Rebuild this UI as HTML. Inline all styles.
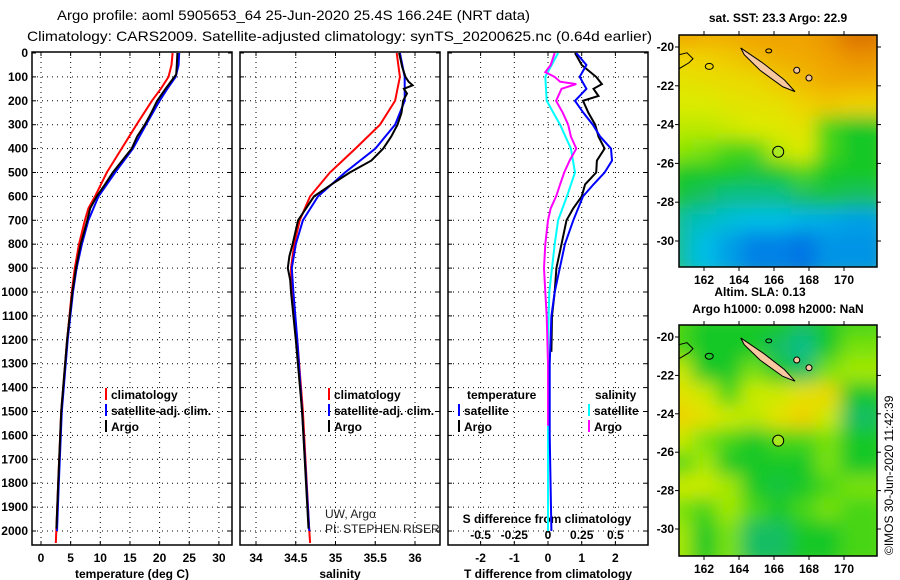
<!DOCTYPE html>
<html><head><meta charset="utf-8"><style>
body{margin:0;background:#fff}
svg{display:block;font-family:"Liberation Sans",sans-serif}
.tk{font-size:12px;font-weight:bold}
</style></head><body>
<svg id="s" width="900" height="580" viewBox="0 0 900 580">
<text x="57" y="20" font-size="14" textLength="473" lengthAdjust="spacingAndGlyphs">Argo profile: aoml 5905653_64 25-Jun-2020 25.4S 166.24E (NRT data)</text>
<text x="27" y="41" font-size="14" textLength="625" lengthAdjust="spacingAndGlyphs">Climatology: CARS2009. Satellite-adjusted climatology: synTS_20200625.nc (0.64d earlier)</text>
<g id="g"></g>
<text transform="translate(893,555) rotate(-90)" font-size="12">©IMOS 30-Jun-2020 11:42:39</text>
</svg>
<script>
// ---- data ----
const depthTicks=[0,100,200,300,400,500,600,700,800,900,1000,1100,1200,1300,1400,1500,1600,1700,1800,1900,2000];
const tTicks=[0,5,10,15,20,25,30];
const sTicks=[34,34.5,35,35.5,36];
const dTTicks=[-2,-1,0,1,2];
const dSTicks=[-0.5,-0.25,0,0.25,0.5];
const tClimDepth=[0,50,100,150,200,300,400,500,600,650,700,800,900,1000,1200,1500,1800,2050];
const tClim=[22.2,22.0,21.5,20.2,18.7,16.1,13.6,11.1,9.1,8.0,7.4,6.4,5.7,5.2,4.4,3.4,2.9,2.5];
const tSatDepth=[0,50,100,150,200,300,400,500,600,700,800,900,1000,1200,1500,1800,2000];
const tSat=[23.3,23.2,22.7,21.3,20.0,17.7,15.5,12.5,9.7,8.0,6.9,6.0,5.4,4.5,3.5,3.0,2.7];
const tArgoDepth=[0,50,90,100,150,200,250,300,350,400,450,500,550,600,650,700,800,900,1000,1200,1500,1800,1990];
const tArgo=[23.0,22.9,22.8,22.5,21.0,19.6,18.6,17.5,16.2,15.3,13.7,12.1,10.8,9.4,8.3,7.8,6.7,5.9,5.3,4.4,3.4,2.9,2.6];
const sClimDepth=[0,100,200,300,400,500,600,700,800,900,1000,1200,1500,2000,2050];
const sClim=[35.77,35.81,35.75,35.56,35.25,34.93,34.68,34.55,34.48,34.44,34.45,34.52,34.59,34.67,34.68];
const sSatDepth=[0,100,200,300,400,500,600,700,800,900,1000,1200,1500,2000];
const sSat=[35.81,35.87,35.87,35.75,35.50,35.12,34.78,34.59,34.50,34.45,34.47,34.52,34.58,34.67];
const sArgoDepth=[0,60,100,120,135,150,170,200,250,300,350,400,450,500,550,600,700,800,850,900,950,1000,1200,1500,1990];
const sArgo=[35.80,35.84,35.88,35.92,35.97,35.86,35.90,35.85,35.83,35.78,35.70,35.60,35.45,35.18,34.95,34.73,34.53,34.46,34.42,34.40,34.43,34.44,34.50,34.58,34.66];
const dTSatDepth=[0,50,100,150,200,250,300,350,400,450,500,550,600,700,800,900,1000,1100,1300,1600,2000];
const dTSat=[0.84,1.14,0.94,1.14,0.80,1.05,1.33,1.55,1.87,1.90,1.68,1.35,1.04,0.75,0.50,0.35,0.20,0.10,0.05,0.05,0.10];
const dTArgoDepth=[0,50,100,130,150,180,200,250,300,350,400,450,500,550,600,650,700,800,900,1000,1100,1250];
const dTArgo=[0.80,1.00,1.43,1.60,1.35,1.50,1.04,1.20,1.40,1.50,1.68,1.45,1.43,1.10,1.00,0.75,0.55,0.40,0.25,0.20,0.12,0.10];
const dSSatDepth=[0,100,200,300,400,500,600,700,800,900,1000,1200,1500,2000];
const dSSat=[0.075,-0.02,-0.01,0.09,0.17,0.20,0.14,0.075,0.05,0.03,0.01,0.0,0.0,0.0];
const dSArgoDepth=[0,50,80,100,120,130,150,200,250,300,350,400,450,500,550,600,650,700,800,900,1000,1100,1300,1560];
const dSArgo=[0.05,0.02,-0.02,0.05,0.09,0.21,0.10,0.06,0.11,0.15,0.17,0.21,0.16,0.12,0.09,0.06,0.02,0.0,-0.02,-0.03,-0.02,-0.01,0.0,0.0];
const lonTicks=[162,164,166,168,170];
const latTicks=[-20,-22,-24,-26,-28,-30];
const sstGrid=[
[0.9,0.88,0.88,0.9,0.9,0.9,0.92,0.97],
[0.8,0.8,0.82,0.85,0.87,0.88,0.9,0.92],
[0.75,0.76,0.77,0.78,0.82,0.85,0.88,0.88],
[0.72,0.72,0.74,0.75,0.76,0.8,0.82,0.8],
[0.68,0.68,0.7,0.72,0.73,0.75,0.55,0.5],
[0.62,0.6,0.55,0.55,0.68,0.72,0.55,0.5],
[0.5,0.5,0.5,0.48,0.5,0.55,0.5,0.5],
[0.48,0.45,0.42,0.42,0.42,0.45,0.47,0.45],
[0.4,0.38,0.36,0.35,0.35,0.33,0.32,0.3],
[0.4,0.35,0.3,0.25,0.25,0.2,0.28,0.28]];
const slaGrid=[
[0.55,0.5,0.5,0.5,0.5,0.45,0.5,0.55],
[0.55,0.5,0.5,0.5,0.45,0.42,0.5,0.6],
[0.7,0.5,0.5,0.6,0.5,0.45,0.6,0.65],
[0.75,0.7,0.55,0.7,0.7,0.75,0.78,0.5],
[0.8,0.75,0.7,0.68,0.75,0.8,0.7,0.45],
[0.7,0.6,0.55,0.5,0.55,0.55,0.6,0.5],
[0.55,0.65,0.5,0.5,0.5,0.5,0.6,0.5],
[0.7,0.7,0.65,0.5,0.48,0.5,0.55,0.6],
[0.6,0.55,0.65,0.55,0.5,0.55,0.6,0.55],
[0.65,0.5,0.6,0.45,0.45,0.5,0.5,0.55]];
const floatLon=166.24, floatLat=-25.4;

// ---- drawing ----
const NS='http://www.w3.org/2000/svg';
const G=document.getElementById('g');
function el(t,a,p){const e=document.createElementNS(NS,t);for(const k in a)e.setAttribute(k,a[k]);(p||G).appendChild(e);return e;}
const yD=d=>53+d*0.239;
const TOP=52,BOT=545;
const panels=[
 {x0:32,x1:232,f:v=>41+v*5.93},
 {x0:240,x1:440,f:v=>256+(v-34)*79.5},
 {x0:448,x1:648,f:v=>548+v*33.7}];
const fS=v=>548+v*134.8;
function grid(p,ticks,name){
  const g=el('g',{});
  
  
  depthTicks.slice(1).forEach(d=>el('line',{x1:p.x0,x2:p.x1,y1:yD(d),y2:yD(d),stroke:'#000','stroke-width':1,'stroke-dasharray':'1,4'},g));
  ticks.forEach(v=>{const x=p.f(v);el('line',{x1:x,x2:x,y1:TOP,y2:BOT,stroke:'#000','stroke-width':1,'stroke-dasharray':'1,4'},g);
    el('line',{x1:x,x2:x,y1:BOT-4,y2:BOT,stroke:'#000'},g);el('line',{x1:x,x2:x,y1:TOP,y2:TOP+4,stroke:'#000'},g);});
  depthTicks.forEach(d=>{el('line',{x1:p.x0,x2:p.x0+4,y1:yD(d),y2:yD(d),stroke:'#000'},g);el('line',{x1:p.x1-4,x2:p.x1,y1:yD(d),y2:yD(d),stroke:'#000'},g);});
}
function frame(p,name){const r=el('rect',{x:p.x0,y:TOP,width:p.x1-p.x0,height:BOT-TOP,fill:'none',stroke:'#000','stroke-width':1.5});
  }
function line(depths,vals,f,color,name,w){
  const pts=depths.map((d,i)=>f(vals[i]).toFixed(1)+','+yD(d).toFixed(1)).join(' ');
  const e=el('polyline',{points:pts,fill:'none',stroke:color,'stroke-width':w||2});
  }
function txt(x,y,s,attrs,name){const e=el('text',Object.assign({x:x,y:y},attrs||{}));e.textContent=s;
  return e;}

depthTicks.forEach(d=>{txt(28,yD(d)+4,String(d),{'text-anchor':'end','class':'tk'},'depth-tick-label');});
grid(panels[0],tTicks,'temperature');grid(panels[1],sTicks,'salinity');grid(panels[2],dTTicks,'difference');
tTicks.forEach(v=>txt(panels[0].f(v),562,String(v),{'text-anchor':'middle','class':'tk'},'temperature-tick-label'));
sTicks.forEach(v=>txt(panels[1].f(v),562,String(v),{'text-anchor':'middle','class':'tk'},'salinity-tick-label'));
dTTicks.forEach(v=>txt(panels[2].f(v),562,String(v),{'text-anchor':'middle','class':'tk'},'t-difference-tick-label'));
dSTicks.forEach(v=>txt(fS(v),539,String(v),{'text-anchor':'middle','class':'tk'},'s-difference-tick-label'));
txt(132,578,'temperature (deg C)',{'text-anchor':'middle','class':'tk'},'temperature-axis-title');
txt(340,578,'salinity',{'text-anchor':'middle','class':'tk'},'salinity-axis-title');
txt(548,578,'T difference from climatology',{'text-anchor':'middle','class':'tk'},'t-difference-axis-title');
txt(547,523,'S difference from climatology',{'text-anchor':'middle','class':'tk'},'s-difference-axis-title');

const P0=panels[0].f,P1=panels[1].f,P2=panels[2].f;
line(tClimDepth,tClim,P0,'#f00','temperature-climatology-line');
line(tSatDepth,tSat,P0,'#00f','temperature-satellite-line');
line(tArgoDepth,tArgo,P0,'#000','temperature-argo-line');
line(sClimDepth,sClim,P1,'#f00','salinity-climatology-line');
line(sSatDepth,sSat,P1,'#00f','salinity-satellite-line');
line(sArgoDepth,sArgo,P1,'#000','salinity-argo-line');
line(dSSatDepth,dSSat,fS,'#0ff','s-difference-satellite-line');
line(dSArgoDepth,dSArgo,fS,'#f0f','s-difference-argo-line');
line(dTArgoDepth,dTArgo,P2,'#000','t-difference-argo-line');
line(dTSatDepth,dTSat,P2,'#00f','t-difference-satellite-line');
panels.forEach((p,i)=>frame(p,['temperature','salinity','difference'][i]));

function leg(x,y,c,s,name){const r=el('rect',{x:x,y:y-11,width:2,height:12,fill:c});
  
  txt(x+6,y,s,{'font-size':12,'class':'tk'},name);}
[[105,'climatology','#f00'],[105,'satellite-adj. clim.','#00f'],[105,'Argo','#000']].forEach((a,i)=>leg(a[0],399+i*16,a[2],a[1],'temperature-legend-entry'));
[[328,'climatology','#f00'],[328,'satellite-adj. clim.','#00f'],[328,'Argo','#000']].forEach((a,i)=>leg(a[0],399+i*16,a[2],a[1],'salinity-legend-entry'));
txt(467,399,'temperature',{'class':'tk'},'difference-legend-temperature-header');
txt(595,399,'salinity',{'class':'tk'},'difference-legend-salinity-header');
leg(458,415,'#00f','satellite','t-diff-legend-satellite');leg(458,431,'#000','Argo','t-diff-legend-argo');
leg(588,415,'#0ff','satellite','s-diff-legend-satellite');leg(588,431,'#f0f','Argo','s-diff-legend-argo');
txt(325,518,'UW, Argo',{'font-size':12,fill:'#222'},'institution-label');
txt(325,533,'PI: STEPHEN RISER',{'font-size':12,fill:'#222'},'pi-label');

const MX0=679,MX1=877;
const lonX=l=>704+(l-162)*17.5;
const stops=[[0,[0,60,220]],[0.25,[0,130,230]],[0.35,[0,190,230]],[0.45,[20,190,100]],[0.5,[20,200,40]],[0.62,[140,230,0]],[0.72,[220,235,0]],[0.8,[240,210,0]],[0.9,[240,160,0]],[1,[210,90,0]]];
function cmap(v){for(let i=1;i<stops.length;i++){if(v<=stops[i][0]){const a=stops[i-1],b=stops[i],t=(v-a[0])/(b[0]-a[0]);
  return 'rgb('+a[1].map((c,k)=>Math.round(c+(b[1][k]-c)*t)).join(',')+')';}}return 'rgb(210,90,0)';}
const defs=el('defs',{});
const flt=el('filter',{id:'bl',x:'-10%',y:'-10%',width:'120%',height:'120%'},defs);el('feGaussianBlur',{stdDeviation:9},flt);
function map(y0,y1,gridv,name,latY){
  const cp=el('clipPath',{id:'c'+name},defs);el('rect',{x:MX0,y:y0,width:MX1-MX0,height:y1-y0},cp);
  const g=el('g',{'clip-path':'url(#c'+name+')'});
  
  el('rect',{x:MX0,y:y0,width:MX1-MX0,height:y1-y0,fill:cmap(gridv[4][3])},g);
  const gb=el('g',{filter:'url(#bl)'},g);
  const rows=gridv.length,cols=gridv[0].length,cw=(MX1-MX0)/cols,ch=(y1-y0)/rows;
  gridv.forEach((r,i)=>r.forEach((v,j)=>{const c=el('rect',{x:MX0+j*cw-12,y:y0+i*ch-12,width:cw+24,height:ch+24,fill:cmap(v)},gb);
    }));
  const isl=el('polygon',{points:[[164.1,-20.05],[165.4,-20.85],[166.6,-21.7],[167.2,-22.3],[166.5,-22.05],[165.2,-21.2],[164.3,-20.4]].map(p=>lonX(p[0])+','+latY(p[1])).join(' '),fill:'#f8c8a0',stroke:'#000','stroke-width':1},g);
  
  el('path',{d:'M'+MX0+' '+latY(-20.4)+' l8 -2 l6 6 l-4 4 l-10 6',fill:'none',stroke:'#000'},g);
  el('ellipse',{cx:lonX(162.3),cy:latY(-21.0),rx:4,ry:3,fill:'none',stroke:'#000'},g);
  el('ellipse',{cx:lonX(167.3),cy:latY(-21.2),rx:3,ry:3,fill:'#f8c8a0',stroke:'#000'},g);
  el('ellipse',{cx:lonX(168),cy:latY(-21.6),rx:3,ry:3,fill:'#f8c8a0',stroke:'#000'},g);
  el('ellipse',{cx:lonX(165.7),cy:latY(-20.2),rx:3,ry:2,fill:'none',stroke:'#000'},g);
  const fc=el('circle',{cx:lonX(floatLon),cy:latY(floatLat),r:5.5,fill:'#a8e820',stroke:'#000','stroke-width':1});
  
  const fr=el('rect',{x:MX0,y:y0,width:MX1-MX0,height:y1-y0,fill:'none',stroke:'#000','stroke-width':1.5});
  
  lonTicks.forEach(l=>{const x=lonX(l);el('line',{x1:x,x2:x,y1:y1,y2:y1+4,stroke:'#000'});el('line',{x1:x,x2:x,y1:y0-4,y2:y0,stroke:'#000'});
    txt(x,y1+17,String(l),{'text-anchor':'middle','class':'tk'},name+'-lon-tick-label');});
  latTicks.forEach(l=>{const y=latY(l);el('line',{x1:MX0-4,x2:MX0,y1:y,y2:y,stroke:'#000'});el('line',{x1:MX1,x2:MX1+4,y1:y,y2:y,stroke:'#000'});
    txt(MX0-5,y+4,String(l),{'text-anchor':'end','class':'tk'},name+'-lat-tick-label');});
}
map(35,267,sstGrid,'sst',l=>47+(-20-l)*19.4);
map(325,556,slaGrid,'sla',l=>337+(-20-l)*19.2);
txt(778,22,'sat. SST: 23.3 Argo: 22.9',{'text-anchor':'middle','class':'tk'},'sst-map-title');
txt(760,296,'Altim. SLA: 0.13',{'text-anchor':'middle','class':'tk'},'sla-map-title');
txt(778,313,'Argo h1000: 0.098 h2000: NaN',{'text-anchor':'middle','class':'tk'},'sla-map-subtitle');
</script>
</body></html>
